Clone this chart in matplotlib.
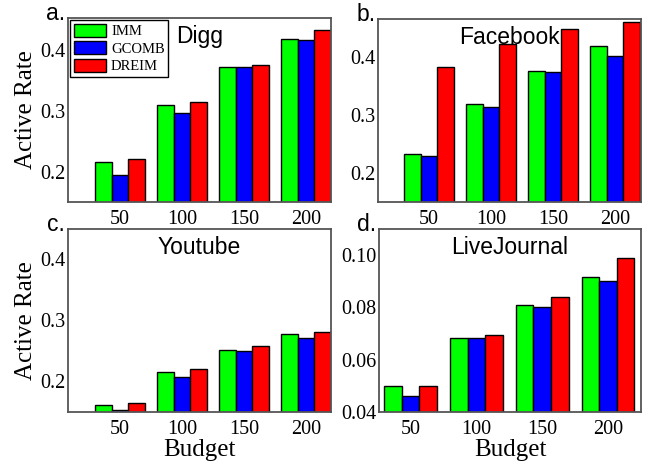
import matplotlib
matplotlib.use('Agg')
import matplotlib.pyplot as plt
import matplotlib.ticker as plticker
import numpy as np

budgets = [50, 100, 150, 200]
methods = ['IMM', 'GCOMB', 'DREIM']
colors = ['#00ff00', '#0000ff', '#ff0000']

digg_imm = [0.215, 0.309, 0.372, 0.418]
digg_gcomb = [0.195, 0.296, 0.371, 0.416]
digg_dreim = [0.221, 0.314, 0.375, 0.432]

facebook_imm = [0.233, 0.318, 0.376, 0.418]
facebook_gcomb = [0.230, 0.313, 0.374, 0.401]
facebook_dreim = [0.383, 0.422, 0.448, 0.460]

youtube_imm = [0.161, 0.215, 0.252, 0.278]
youtube_gcomb = [0.154, 0.208, 0.250, 0.271]
youtube_dreim = [0.164, 0.220, 0.258, 0.280]

livejournal_imm = [0.0498, 0.0684, 0.0808, 0.0915]
livejournal_gcomb = [0.0460, 0.0682, 0.0803, 0.0903]
livejournal_dreim = [0.0499, 0.0694, 0.0841, 0.0990]

panels = [
    ('a.', 'Digg', [digg_imm, digg_gcomb, digg_dreim], (0.15, 0.452), 0.1, (8, 220)),
    ('b.', 'Facebook', [facebook_imm, facebook_gcomb, facebook_dreim], (0.15, 0.465), 0.1, (9, 221)),
    ('c.', 'Youtube', [youtube_imm, youtube_gcomb, youtube_dreim], (0.15, 0.449), 0.1, (8, 220)),
    ('d.', 'LiveJournal', [livejournal_imm, livejournal_gcomb, livejournal_dreim], (0.04, 0.110), 0.02, (26, 225)),
]

serif = ['Liberation Serif', 'DejaVu Serif']
sans = ['Liberation Sans', 'DejaVu Sans']
plt.rcParams['font.family'] = serif

fig = plt.figure(figsize=(6.6, 4.67), dpi=100)
boxes = [
    [68 / 660, 1 - 202 / 467, 263 / 660, 184 / 467],
    [378 / 660, 1 - 202 / 467, 263 / 660, 183 / 467],
    [68 / 660, 1 - 412 / 467, 263 / 660, 183 / 467],
    [379 / 660, 1 - 412 / 467, 262 / 660, 183 / 467],
]

width = 40 / 3
x = np.array(budgets, dtype=float)
for i, (tag, name, series, ylim, step, xlim) in enumerate(panels):
    ax = fig.add_axes(boxes[i])
    for j, vals in enumerate(series):
        ax.bar(x + (j - 1) * width, vals, width=width, color=colors[j],
               edgecolor='black', linewidth=1.0, label=methods[j])
    ax.set_xlim(*xlim)
    ax.set_ylim(*ylim)
    ax.set_xticks(budgets)
    ax.yaxis.set_major_locator(plticker.MultipleLocator(step))
    if step < 0.05:
        ax.yaxis.set_major_formatter(plticker.FormatStrFormatter('%.2f'))
    else:
        ax.yaxis.set_major_formatter(plticker.FormatStrFormatter('%.1f'))
    ax.tick_params(axis='both', length=0, labelsize=14.5)
    ax.tick_params(axis='x', pad=6)
    ax.tick_params(axis='y', pad=2)
    for sp in ax.spines.values():
        sp.set_color('#555555')
        sp.set_linewidth(1.3)
    ax.text(0.5, 0.9, name, transform=ax.transAxes, ha='center', va='center',
            fontsize=16.5, family=sans)
    ax.text(-0.01, 0.99, tag, transform=ax.transAxes, ha='right', va='baseline',
            fontsize=16.5, family=sans)
    if i % 2 == 0:
        ax.set_ylabel('Active Rate', fontsize=18, labelpad=2)
    if i >= 2:
        ax.set_xlabel('Budget', fontsize=18, labelpad=0)
    if i == 0:
        leg = ax.legend(loc='upper left', prop={'size': 10.5},
                        fancybox=False, edgecolor='black', framealpha=1,
                        handlelength=2.2, handleheight=1.0, labelspacing=0.2,
                        handletextpad=0.35, borderaxespad=0.15, borderpad=0.25)
        leg.get_frame().set_linewidth(1.0)

fig.savefig('out.png', dpi=100)
